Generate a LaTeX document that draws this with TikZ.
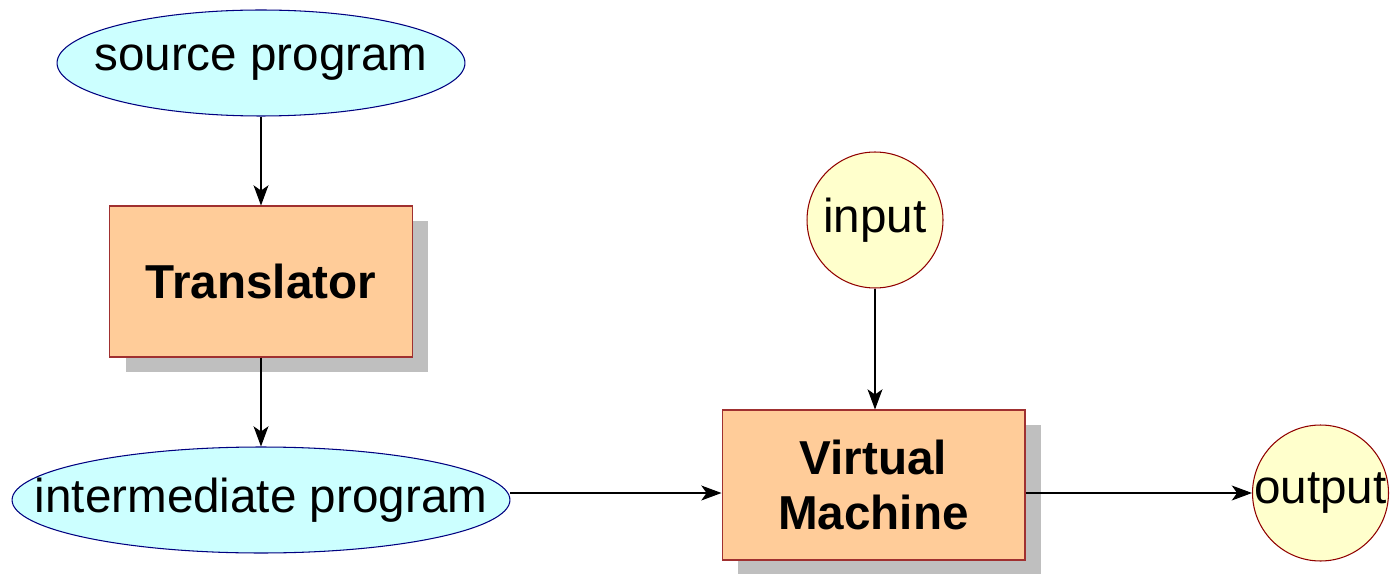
\documentclass[tikz,border=0pt]{standalone}
\usepackage{fontspec}
\setmainfont{Liberation Sans}
\usetikzlibrary{shapes.geometric,shadows,arrows.meta}

\definecolor{ovalfill}{HTML}{CCFFFF}
\definecolor{ovaldraw}{HTML}{000080}
\definecolor{boxfill}{HTML}{FFCC99}
\definecolor{boxdraw}{HTML}{A03030}
\definecolor{ballfill}{HTML}{FFFFCC}
\definecolor{balldraw}{HTML}{900000}

% centred text that takes no room and sits a bit low
\newcommand{\lowtext}[1]{\makebox[0pt]{\raisebox{-4.8pt}{#1}}}

\begin{document}
\begin{tikzpicture}[x=0.02cm, y=-0.02cm,
    every node/.style={font=\fontsize{27.1pt}{31pt}\selectfont},
    oval/.style={ellipse, draw=ovaldraw, fill=ovalfill, line width=0.6pt, inner sep=0pt},
    box/.style={rectangle, draw=boxdraw, fill=boxfill, line width=0.6pt, inner sep=0pt,
        minimum width=6.06cm, minimum height=3.02cm, align=center, font=\fontsize{27.1pt}{30.8pt}\selectfont\bfseries,
        drop shadow={shadow xshift=0.32cm, shadow yshift=-0.3cm, fill=black!25, opacity=1}},
    ball/.style={circle, draw=balldraw, fill=ballfill, line width=0.6pt, inner sep=0pt,
        minimum size=2.72cm},
    >={Stealth[length=11.5pt,width=8.5pt,inset=3pt]}, line width=0.6pt]

    \useasboundingbox (0,0) rectangle (1392,574);

    \node[oval, minimum width=8.16cm, minimum height=2.12cm] (src) at (261,63) {\lowtext{source program}};
    \node[box] (trans) at (261,281.5) {Translator};
    \node[oval, minimum width=9.96cm, minimum height=2.12cm] (inter) at (261,500) {\lowtext{intermediate program}};
    \node[box, minimum height=3.0cm] (vm) at (873.5,485) {Virtual\\Machine};
    \node[ball] (in) at (875,220) {\lowtext{input}};
    \node[ball] (out) at (1320.5,493) {\lowtext{output}};

    \coordinate (lane) at (0,493);

    \draw[->] (src) -- (trans);
    \draw[->] (trans) -- (inter);
    \draw[->] (inter.east |- lane) -- (vm.west |- lane);
    \draw[->] (in.south) -- (in.south |- vm.north);
    \draw[->] (vm.east |- out.west) -- (out.west);
\end{tikzpicture}
\end{document}
